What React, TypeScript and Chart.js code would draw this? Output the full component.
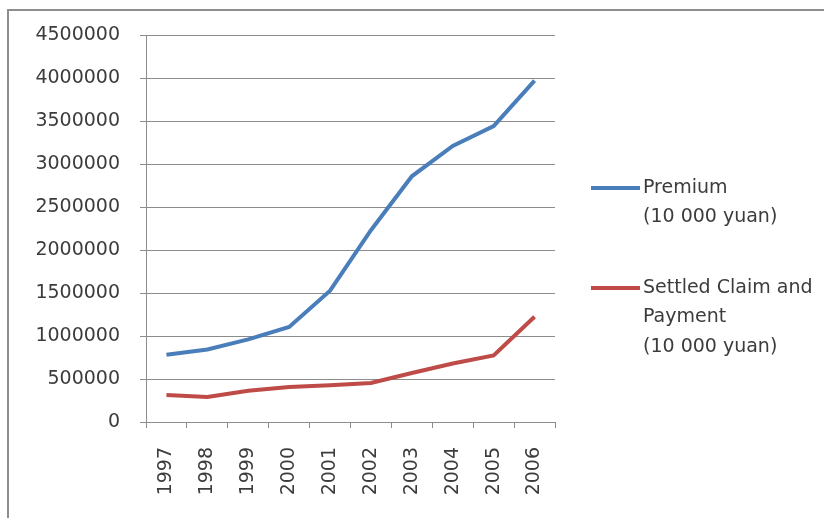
import React, { useEffect, useRef } from "react";
import { Chart, registerables } from "chart.js";

Chart.register(...registerables);

// Years on the category axis
const years = ["1997", "1998", "1999", "2000", "2001", "2002", "2003", "2004", "2005", "2006"];

// Premium income, 10 000 yuan
const premium = [782000, 844000, 961000, 1105000, 1527000, 2230000, 2857000, 3210000, 3440000, 3970000];

// Settled claims and payments, 10 000 yuan
const claims = [313000, 290000, 363000, 407000, 426000, 453000, 570000, 680000, 773000, 1223000];

// Value-axis ticks
const yTicks = [0, 500000, 1000000, 1500000, 2000000, 2500000, 3000000, 3500000, 4000000, 4500000];

// Multi-line legend captions
const premiumLegend = ["Premium", "(10 000 yuan)"];
const claimsLegend = ["Settled Claim and", "Payment", "(10 000 yuan)"];

const FONT = "'DejaVu Sans', sans-serif";
const TEXT = "#3c3c3c";
const GRID = "#8c8c8c";
const BLUE = "#4a7ebb";
const RED = "#be4b48";
const LINE_W = 4;

// Outer frame (left and top edges) of the chart object
const framePlugin = {
  id: "frame",
  beforeDraw(chart: any) {
    const ctx = chart.ctx;
    ctx.save();
    ctx.strokeStyle = "#8e8e8e";
    ctx.lineWidth = 2;
    ctx.beginPath();
    ctx.moveTo(8, chart.height);
    ctx.lineTo(8, 10);
    ctx.lineTo(chart.width, 10);
    ctx.stroke();
    ctx.restore();
  },
};

// Legend at the right with wrapped captions
const sideLegendPlugin = {
  id: "sideLegend",
  afterDraw(chart: any) {
    const ctx = chart.ctx;
    const area = chart.chartArea;
    const x0 = area.right + 36;
    const lineH = 29.5;
    const tops = [188, 288];
    ctx.save();
    ctx.font = `19px ${FONT}`;
    ctx.fillStyle = TEXT;
    ctx.textBaseline = "middle";
    ctx.textAlign = "left";
    chart.data.datasets.forEach((ds: any, i: number) => {
      const y = tops[i];
      ctx.strokeStyle = ds.borderColor;
      ctx.lineWidth = LINE_W;
      ctx.beginPath();
      ctx.moveTo(x0, y);
      ctx.lineTo(x0 + 49, y);
      ctx.stroke();
      (ds.legendLines as string[]).forEach((t, k) => {
        ctx.fillText(t, x0 + 52, y + k * lineH);
      });
    });
    ctx.restore();
  },
};

export default function App() {
  const ref = useRef<HTMLCanvasElement | null>(null);

  useEffect(() => {
    if (!ref.current) return;
    const chart = new Chart(ref.current, {
      type: "line",
      data: {
        labels: years,
        datasets: [
          {
            label: premiumLegend.join(" "),
            legendLines: premiumLegend,
            data: premium,
            borderColor: BLUE,
            backgroundColor: BLUE,
            borderWidth: LINE_W,
            pointRadius: 0,
            tension: 0,
          } as any,
          {
            label: claimsLegend.join(" "),
            legendLines: claimsLegend,
            data: claims,
            borderColor: RED,
            backgroundColor: RED,
            borderWidth: LINE_W,
            pointRadius: 0,
            tension: 0,
          } as any,
        ],
      },
      options: {
        responsive: false,
        animation: false,
        layout: { padding: { top: 35, right: 269, bottom: 0, left: 0 } },
        plugins: {
          legend: { display: false },
          tooltip: { enabled: false },
        },
        scales: {
          x: {
            type: "category",
            offset: true,
            grid: {
              offset: true,
              drawOnChartArea: false,
              drawTicks: true,
              tickLength: 6,
              color: GRID,
            },
            border: { display: true, color: GRID, width: 1 },
            ticks: {
              autoSkip: false,
              minRotation: 90,
              maxRotation: 90,
              padding: 19,
              color: TEXT,
              font: { family: FONT, size: 19 },
            },
            afterFit(scale: any) {
              scale.height = 96;
            },
          },
          y: {
            min: yTicks[0],
            max: yTicks[yTicks.length - 1],
            afterBuildTicks(scale: any) {
              scale.ticks = yTicks.map((v) => ({ value: v }));
            },
            grid: { color: GRID, lineWidth: 1, drawTicks: true, tickLength: 6 },
            border: { display: true, color: GRID, width: 1 },
            ticks: {
              padding: 20,
              color: TEXT,
              font: { family: FONT, size: 19 },
              callback: (v: any) => String(v),
            },
            afterFit(scale: any) {
              scale.width = 146;
            },
          },
        },
      },
      plugins: [framePlugin, sideLegendPlugin],
    });
    return () => chart.destroy();
  }, []);

  return (
    <div style={{ position: "fixed", left: 0, top: 0, width: 824, height: 518, background: "#fff" }}>
      <canvas ref={ref} width={824} height={518} style={{ display: "block" }} />
    </div>
  );
}
